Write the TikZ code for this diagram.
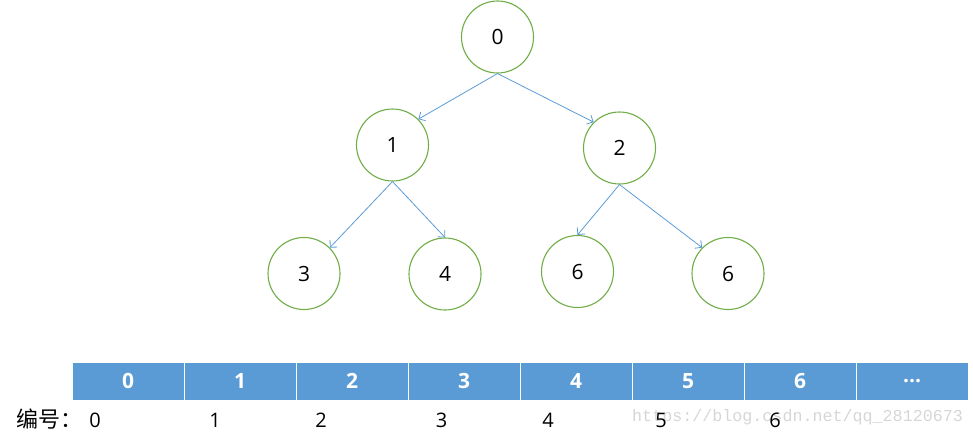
\documentclass[tikz,border=0pt]{standalone}
\usepackage{fontspec}
\setmainfont{Open Sans}
\newfontfamily\cjk{Noto Sans CJK SC}
\newfontfamily\wmfont{Liberation Mono}
\usetikzlibrary{arrows.meta}
\definecolor{cgreen}{HTML}{70AD47}
\definecolor{cblue}{HTML}{5B9BD5}
\definecolor{wm}{HTML}{D6D6D6}
\tikzset{
  tnode/.style={circle, draw=cgreen, line width=1.1pt, minimum size=72pt, inner sep=0pt, font=\fontsize{21}{24}\selectfont},
  edge/.style={draw=cblue, line width=0.8pt, -{Straight Barb[length=5pt,width=10pt]}},
  cell/.style={fill=cblue, draw=white, line width=1pt, minimum width=112pt, minimum height=38pt, inner sep=0pt, text=white, font=\fontsize{21}{24}\selectfont\bfseries},
  idx/.style={font=\fontsize{20}{24}\selectfont, inner sep=0pt},
}
\begin{document}
\begin{tikzpicture}[x=1pt,y=-1pt]
\useasboundingbox (0,0) rectangle (973,439);
\node[tnode] (n0) at (497.5,37) {0};
\node[tnode] (n1) at (392.5,145) {1};
\node[tnode] (n2) at (619.5,148) {2};
\node[tnode] (n3) at (304,273.5) {3};
\node[tnode] (n4) at (445,274) {4};
\node[tnode] (n5) at (577.5,271.5) {6};
\node[tnode] (n6) at (728,273.5) {6};
\draw[edge] (n0.south) -- (n1.north east);
\draw[edge] (n0.south) -- (n2.north west);
\draw[edge] (n1.south) -- (n3.north east);
\draw[edge] (n1.south) -- (n4.north);
\draw[edge] (n2.south) -- (n5.north);
\draw[edge] (n2.south) -- (n6.north west);
\begin{scope}
\clip (0,0) rectangle (973,439);
\node[cell] (c0) at (128,381) {0};
\node[cell] (c1) at (240,381) {1};
\node[cell] (c2) at (352,381) {2};
\node[cell] (c3) at (464,381) {3};
\node[cell] (c4) at (576,381) {4};
\node[cell] (c5) at (688,381) {5};
\node[cell] (c6) at (800,381) {6};
\node[cell] (c7) at (912,381) {...};
\end{scope}
\node[font=\wmfont\fontsize{16.7}{20}\selectfont, text=wm, anchor=west, inner sep=0pt] (wmk) at (632,417) {https://blog.csdn.net/qq\_28120673};
\node[idx, anchor=west, font=\cjk\fontsize{22}{24}\selectfont] (lab) at (16,419) {编号：};
\node[idx] (i0) at (95,420) {0};
\node[idx] (i1) at (215,420) {1};
\node[idx] (i2) at (321,420) {2};
\node[idx] (i3) at (441.5,420) {3};
\node[idx] (i4) at (548,420) {4};
\node[idx] (i5) at (661,420) {5};
\node[idx] (i6) at (775,420) {6};
\end{tikzpicture}
\end{document}
